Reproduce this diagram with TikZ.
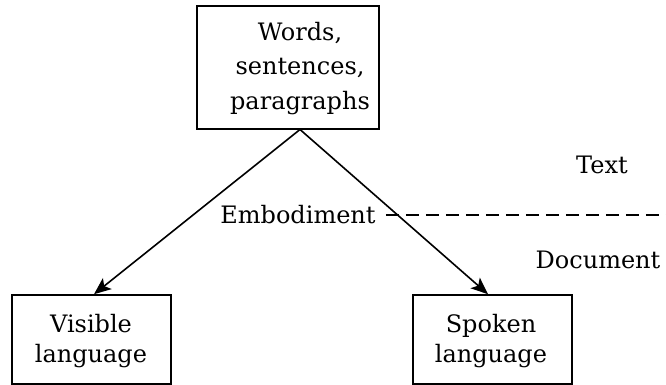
\documentclass[tikz,border=0pt]{standalone}
\usepackage{fontspec}
\setmainfont{DejaVu Serif}
\usetikzlibrary{arrows.meta}
\begin{document}
\begin{tikzpicture}[x=1pt,y=-1pt,
  boxstyle/.style={draw,line width=1.6pt,inner sep=0pt},
  lbl/.style={font=\fontsize{24}{34.5}\selectfont,inner sep=0pt,align=center},
  conn/.style={line width=1.6pt,-{Stealth[length=17pt,width=14pt,inset=4pt]}},
  sep/.style={line width=1.6pt,dash pattern=on 13pt off 7pt}]
\useasboundingbox (0,0) rectangle (666,385);
% boxes
\node[boxstyle,minimum width=182pt,minimum height=123pt] (top) at (288,67.5) {};
\node[lbl] (toptext) at (300,68.5) {Words,\\sentences,\\paragraphs};
\node[boxstyle,minimum width=159pt,minimum height=89pt] (vis) at (91.5,339.5) {};
\node[lbl,font=\fontsize{24}{30}\selectfont] (vistext) at (91,341.5) {Visible\\language};
\node[boxstyle,minimum width=159pt,minimum height=89pt] (spk) at (492.5,339.5) {};
\node[lbl,font=\fontsize{24}{30}\selectfont] (spktext) at (491,341.5) {Spoken\\language};
% labels
\node[lbl,anchor=base] (emb) at (298,223) {Embodiment};
\node[lbl,anchor=base] (txt) at (602,173) {Text};
\node[lbl,anchor=base] (doc) at (598,268) {Document};
% connectors
\coordinate (apex) at (300,129.5);
\coordinate (dashend) at (666,215);
\draw[conn] (apex) -- ([xshift=2.5pt]vis.north);
\draw[conn] (apex) -- ([xshift=-4.5pt]spk.north);
\draw[sep] ([xshift=10pt]emb.east |- dashend) -- (dashend);
\end{tikzpicture}
\end{document}
